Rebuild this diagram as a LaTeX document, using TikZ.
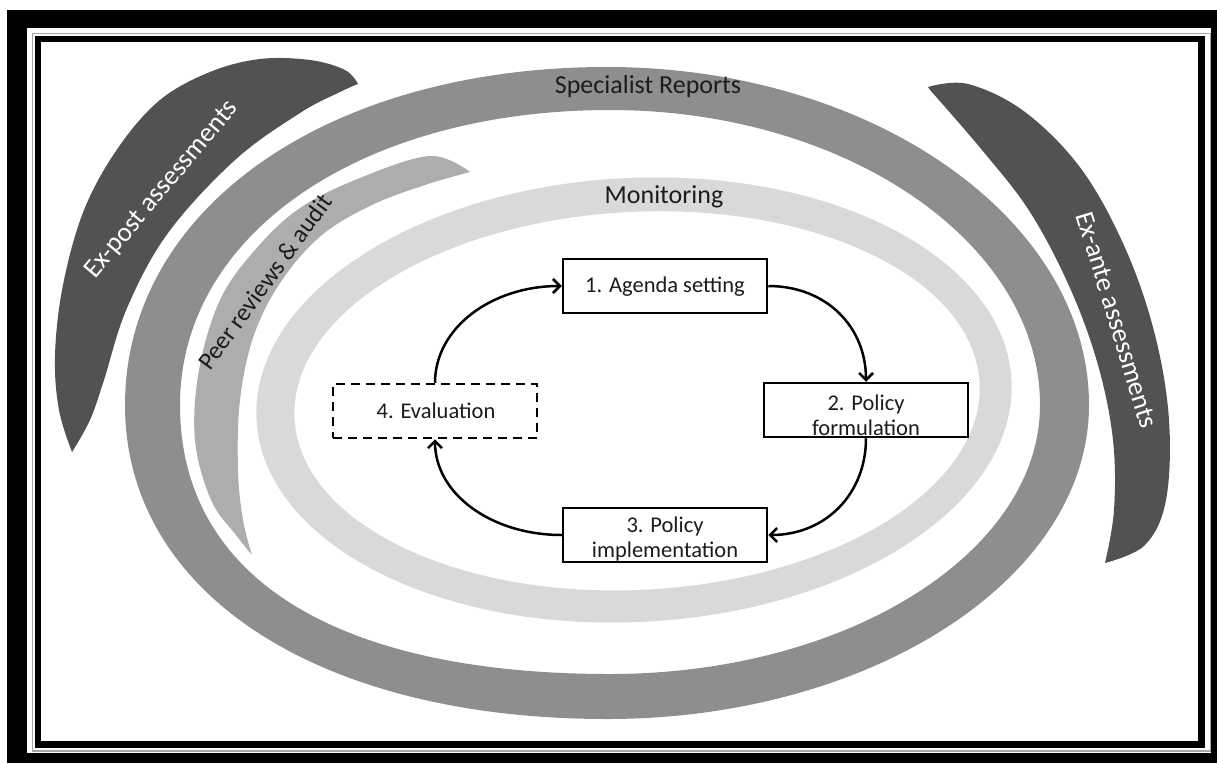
\documentclass[tikz,border=0pt]{standalone}
\usepackage{fontspec}
\setmainfont{Carlito}
\usetikzlibrary{arrows.meta}

\definecolor{darkband}{HTML}{525252}
\definecolor{ringgray}{HTML}{8E8E8E}
\definecolor{peergray}{HTML}{ADADAD}
\definecolor{lightband}{HTML}{D9D9D9}
\definecolor{inktext}{HTML}{1C1C1C}

\begin{document}
\begin{tikzpicture}[x=1pt,y=-1pt,
  stagebox/.style={draw=black, line width=2.5pt, fill=white,
    minimum width=204pt, minimum height=54pt, inner sep=0pt},
  stagetext/.style={font=\fontsize{22.5}{25}\selectfont, align=center,
    inner sep=0pt, text=inktext},
  bandlabel/.style={font=\fontsize{26}{30}\selectfont, inner sep=0pt, text=inktext},
  arclabel/.style={font=\fontsize{27}{30}\selectfont, inner sep=0pt, text=white},
  flow/.style={line width=2.5pt, -{Straight Barb[length=7pt,width=14pt]}}
]
\useasboundingbox (0,0) rectangle (1217,763);

% double frame
\fill[black] (7,10) rectangle (1217,763);
\fill[white] (27,28) rectangle (1211,753);
\draw[gray!70, line width=1.5pt] (32.5,33.5) rectangle (1210.5,751);
\fill[black] (34.5,35.5) rectangle (1205,748);
\fill[white] (40.5,42) rectangle (1198,741);

% specialist reports ring (quarter curves, fuller towards the lower left)
\fill[ringgray, even odd rule]
  (607,67) .. controls (872,67) and (1089,219) .. (1089,405)
           .. controls (1089,578) and (872,719) .. (607,719)
           .. controls (318,719) and (125,593) .. (125,405)
           .. controls (125,209) and (327,67) .. (607,67) -- cycle
  (610,110) .. controls (846.5,110) and (1040,243) .. (1040,405)
            .. controls (1040,553) and (846.5,674) .. (610,674)
            .. controls (335,674) and (180,577) .. (180,405)
            .. controls (180,234) and (361,110) .. (610,110) -- cycle;

% monitoring ring
\fill[lightband, even odd rule, rotate around={3:(634,400)}]
  (634,400) ellipse [x radius=378pt, y radius=222pt]
  (637,401) ellipse [x radius=343pt, y radius=189pt];

% peer reviews crescent
\fill[peergray]
  plot[smooth, tension=0.6] coordinates {(470,172) (430,156) (360,178) (300,208)
    (255,250) (220,300) (199,370) (195,440) (211,500) (236,535) (252,555)}
  -- plot[smooth, tension=0.6] coordinates {(252,555) (243,520) (238,470) (240,400)
    (254,335) (282,280) (322,235) (372,205) (425,185) (470,172)} -- cycle;

% ex-post crescent
\fill[darkband]
  plot[smooth, tension=0.6] coordinates {(358,84) (345,70) (310,60) (260,59) (210,72)
    (160,100) (118,148) (84,210) (63,285) (55,355) (59,410) (72,452)}
  -- plot[smooth, tension=0.6] coordinates {(72,452) (90,420) (104,380) (127,308)
    (168,233) (235,160) (300,113) (340,92) (358,84)} -- cycle;

% ex-ante crescent
\fill[darkband]
  plot[smooth, tension=0.6] coordinates {(928,87) (968,84) (1025,112) (1082,170)
    (1126,250) (1155,335) (1169,420) (1166,500) (1145,545) (1105,563)}
  -- plot[smooth, tension=0.6] coordinates {(1105,563) (1114,510) (1113,440)
    (1098,365) (1070,288) (1030,212) (982,150) (930,90)} -- cycle;

% band labels
\node[bandlabel] (spec) at (648,87) {Specialist Reports};
\node[bandlabel] (moni) at (664,197) {Monitoring};
\node[arclabel, rotate=50] (expost) at (162,190) {Ex-post assessments};
\node[bandlabel, font=\fontsize{25}{30}\selectfont, rotate=54] (peer) at (265,282)
  {Peer reviews \& audit};
\node[arclabel, rotate=-73] (exante) at (1117,320) {Ex-ante assessments};

% policy cycle stages
\node[stagebox] (b1) at (665,286) {};
\node[stagebox] (b2) at (866,410) {};
\node[stagebox] (b3) at (665,535) {};
\node[stagebox, dash pattern=on 9pt off 6pt] (b4) at (435,411) {};

\node[stagetext] (t1) at (665,287) {1. Agenda setting};
\node[stagetext] (t2) at (866,415) {2. Policy\\formulation};
\node[stagetext] (t3) at (665,539) {3. Policy\\implementation};
\node[stagetext] (t4) at (436,411) {4. Evaluation};

% cycle arrows
\draw[flow] (b1.east) .. controls +(58,0) and +(0,-55) .. (b2.north);
\draw[flow] (b2.south) .. controls +(0,55) and +(58,0) .. (b3.east);
\draw[flow] (b3.west) .. controls +(-70,0) and +(0,55) .. (b4.south);
\draw[flow] (b4.north) .. controls +(0,-55) and +(-70,0) .. (b1.west);
\end{tikzpicture}
\end{document}
